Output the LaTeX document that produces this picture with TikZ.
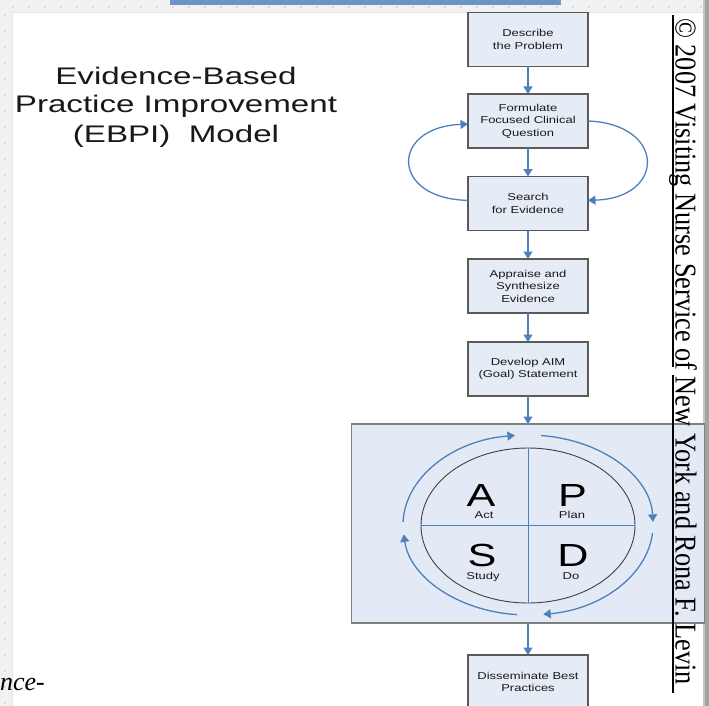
\documentclass[tikz,border=0pt]{standalone}
\usepackage{graphicx}
\usepackage{fontspec}
\setmainfont{Liberation Sans}
\newfontfamily\boxfont[FakeStretch=1.3]{Liberation Sans}
\newfontfamily\titlefont[FakeStretch=1.38]{Liberation Sans}
\newfontfamily\pdsafont[FakeStretch=1.35]{Liberation Sans}
\newfontfamily\seriffont{Liberation Serif}
\usetikzlibrary{arrows.meta,shapes.geometric}

\definecolor{flowblue}{HTML}{4E80BE}
\definecolor{boxfill}{HTML}{E6ECF6}
\definecolor{boxline}{HTML}{595959}
\definecolor{panelfill}{HTML}{E3EAF5}
\definecolor{panelline}{HTML}{7F7F7F}
\definecolor{barblue}{HTML}{6B95C5}
\definecolor{gridgray}{HTML}{F1F1F1}
\definecolor{dotgray}{HTML}{C8C8C8}

\begin{document}
\begin{tikzpicture}[x=1bp,y=-1bp,
  stepbox/.style={draw=boxline, fill=boxfill, line width=1.1bp,
    minimum width=120bp, minimum height=54bp, inner sep=0pt, outer sep=0pt,
    align=center, text=black!90,
    font=\boxfont\fontsize{10bp}{12.5bp}\selectfont},
  panel/.style={draw=panelline, fill=panelfill, line width=1.1bp,
    minimum width=353bp, minimum height=199bp, inner sep=0pt, outer sep=0pt},
  flow/.style={draw=flowblue, line width=1.3bp, -{Triangle[width=9bp,length=7.5bp]}},
  titletext/.style={anchor=base, inner sep=0pt, text=black!90,
    font=\titlefont\fontsize{24bp}{28.5bp}\selectfont},
  bigletter/.style={anchor=base, inner sep=0pt, text=black,
    font=\pdsafont\fontsize{32bp}{36bp}\selectfont},
  smalllabel/.style={anchor=base, inner sep=0pt, text=black!90,
    font=\boxfont\fontsize{10bp}{12bp}\selectfont}
]
\useasboundingbox (0,0) rectangle (709,706);

% slide background with dotted margins
\fill[white] (0,0) rectangle (709,706);
\fill[gridgray] (0,0) rectangle (709,12);
\fill[gridgray] (0,0) rectangle (12,706);
\foreach \i in {0,...,43} \fill[dotgray] (13+16*\i,7) circle[radius=0.8bp];
\foreach \j in {0,...,43} \fill[dotgray] (5,15+16*\j) circle[radius=0.8bp];
\foreach \j in {0,...,42} \fill[dotgray!70] (12,23+16*\j) circle[radius=0.7bp];
\draw[black!10, line width=1bp] (12.5,706) -- (12.5,12.5) -- (704,12.5);
\fill[gray!72] (704,0) rectangle (709,706);
\fill[gray!45] (703,0) rectangle (704.5,706);
\fill[barblue] (170,0) rectangle (561,5);

% title
\node[titletext] (t1) at (176,85) {Evidence-Based};
\node[titletext] (t2) at (176,113) {Practice Improvement};
\node[titletext] (t3) at (176,142) {(EBPI)\ \ Model};

% process steps
\node[stepbox] (describe) at (528,39.5) {Describe\\the Problem};
\node[stepbox] (formulate) at (528,121) {Formulate\\Focused Clinical\\Question};
\node[stepbox] (search) at (528,203.5) {Search\\for Evidence};
\node[stepbox] (appraise) at (528,286) {Appraise and\\Synthesize\\Evidence};
\node[stepbox] (aim) at (528,369) {Develop AIM\\(Goal) Statement};
\node[panel] (pdsa) at (528,523.5) {};
\node[stepbox] (disseminate) at (528,682) {Disseminate Best\\Practices};

% PDSA wheel
\node[draw=black!75, line width=0.9bp, ellipse, minimum width=214bp,
  minimum height=155bp, inner sep=0pt, outer sep=0pt] (wheel) at (528,525.5) {};
\draw[flowblue, line width=1bp] (wheel.north) -- (wheel.south)
  (wheel.west) -- (wheel.east);
\node[bigletter] (la) at (481,506) {A};
\node[bigletter] (lp) at (572.5,506) {P};
\node[bigletter] (ls) at (482,566) {S};
\node[bigletter] (ld) at (573,566) {D};
\node[smalllabel] (act) at (484,518) {Act};
\node[smalllabel] (plan) at (572,518) {Plan};
\node[smalllabel] (study) at (483,579) {Study};
\node[smalllabel] (do) at (571,579) {Do};

\coordinate (hub) at (528,525);
\draw[flow] ([shift={(182:125 and 90)}]hub) arc[start angle=182, end angle=264, x radius=125, y radius=90];
\draw[flow] ([shift={(276:125 and 90)}]hub) arc[start angle=276, end angle=358, x radius=125, y radius=90];
\draw[flow] ([shift={(5:125 and 90)}]hub) arc[start angle=5, end angle=83, x radius=125, y radius=90];
\draw[flow] ([shift={(95:125 and 90)}]hub) arc[start angle=95, end angle=174, x radius=125, y radius=90];

% connectors
\draw[flow] (describe) -- (formulate);
\draw[flow] (formulate) -- (search);
\draw[flow] (search) -- (appraise);
\draw[flow] (appraise) -- (aim);
\draw[flow] (aim) -- (pdsa);
\draw[flow] (pdsa) -- (disseminate);
\draw[flow] (search.177) .. controls (390,199) and (390,127) .. (formulate.183);
\draw[flow] (formulate.east) .. controls (666,124) and (666,198) .. (search.3);

% credit line
\node[rotate=-90, anchor=base west, inner sep=0pt, text=black,
  font=\seriffont\fontsize{26.3bp}{30bp}\selectfont] (credit) at (675.5,18)
  {\scalebox{1}[1.15]{© 2007 Visiting Nurse Service of New York and Rona F. Levin}};
\draw[black, line width=1.5bp] (673,15) -- (673,367) (673,375) -- (673,693);

\node[anchor=base east, inner sep=0pt, text=black,
  font=\seriffont\itshape\fontsize{26bp}{30bp}\selectfont] (cut) at (45,690) {nce-};
\end{tikzpicture}
\end{document}
